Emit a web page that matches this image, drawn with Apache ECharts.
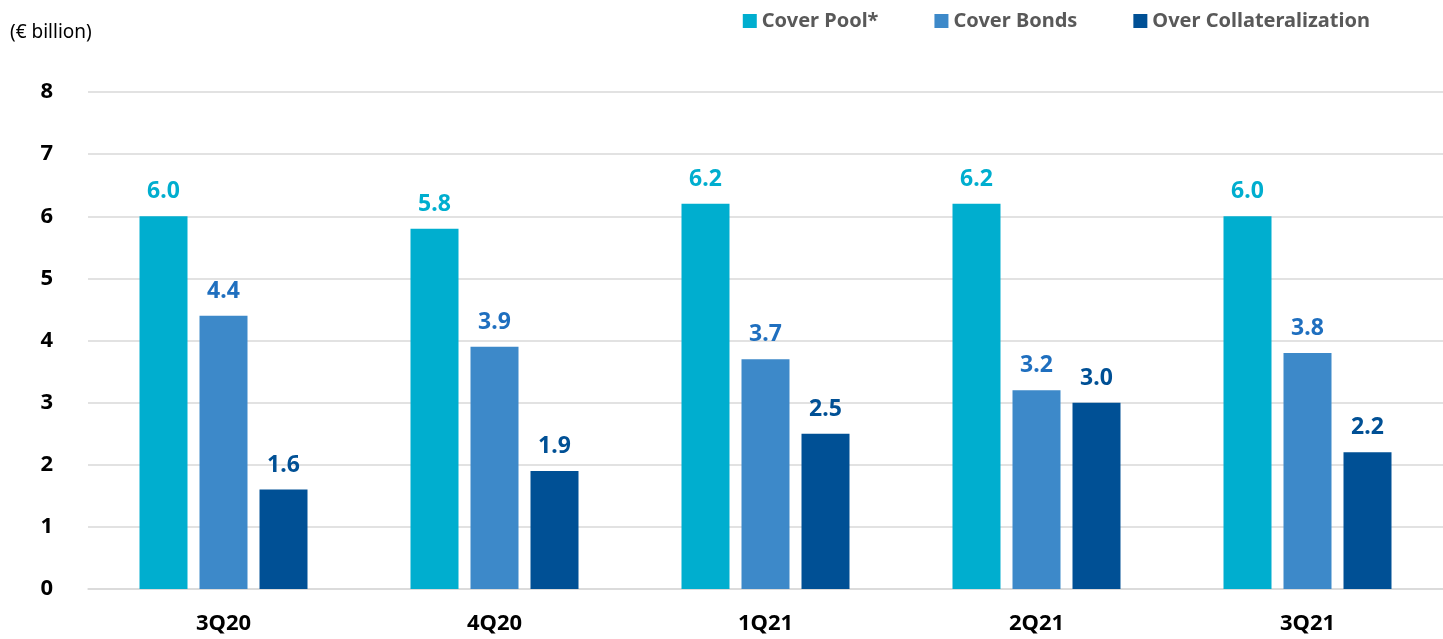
<!DOCTYPE html>
<html><head><meta charset="utf-8">
<script src="https://cdn.jsdelivr.net/npm/echarts@6/dist/echarts.min.js"></script>
<style>html,body{margin:0;padding:0;background:#fff}#c{width:1443px;height:639px}</style>
</head><body><div id="c"></div>
<script>
var categories = ['3Q20','4Q20','1Q21','2Q21','3Q21'];
var coverPool = [6.0, 5.8, 6.2, 6.2, 6.0];
var coverBonds = [4.4, 3.9, 3.7, 3.2, 3.8];
var overCollat = [1.6, 1.9, 2.5, 3.0, 2.2];
var seriesNames = ['Cover Pool*','Cover Bonds','Over Collateralization'];
var colors = ['#00AECF','#3D89C9','#005095'];
var labelColors = ['#00AECF','#1F6FBF','#005095'];
var F = '"Noto Sans", "Open Sans", sans-serif';
var chart = echarts.init(document.getElementById('c'));
function mk(i, data){
  return {name: seriesNames[i], type:'bar', data:data, barWidth:48, barGap:'25%',
    itemStyle:{color:colors[i]},
    label:{show:true, position:'top', distance:13, color:labelColors[i], fontFamily:F, fontWeight:'bold', fontSize:23,
      formatter:function(p){return p.value.toFixed(1);}}};
}
chart.setOption({
  animation:false,
  textStyle:{fontFamily:F},
  grid:{left:88, right:-4, top:92, bottom:50, containLabel:false},
  legend:{right:68, top:6, itemWidth:14, itemHeight:14, itemGap:56,
    textStyle:{color:'#595959', fontFamily:F, fontWeight:'bold', fontSize:20},
    data:seriesNames.map(function(n){return {name:n, icon:'rect'};})},
  xAxis:{type:'category', data:categories,
    axisLine:{show:true, lineStyle:{color:'#d9d9d9', width:1.5}}, axisTick:{show:false},
    axisLabel:{color:'#000', fontFamily:F, fontWeight:'bold', fontSize:22, margin:24}},
  yAxis:{type:'value', min:0, max:8, interval:1,
    name:'(€ billion)', nameLocation:'end', nameGap:50, nameTextStyle:{color:'#000', fontFamily:F, fontSize:19, align:'left', padding:[0,0,0,-78]},
    axisLine:{show:false}, axisTick:{show:false},
    splitLine:{lineStyle:{color:'#d9d9d9', width:1.5}},
    axisLabel:{color:'#000', fontFamily:F, fontWeight:'bold', fontSize:22, margin:35}},
  series:[mk(0,coverPool), mk(1,coverBonds), mk(2,overCollat)]
});
</script></body></html>
